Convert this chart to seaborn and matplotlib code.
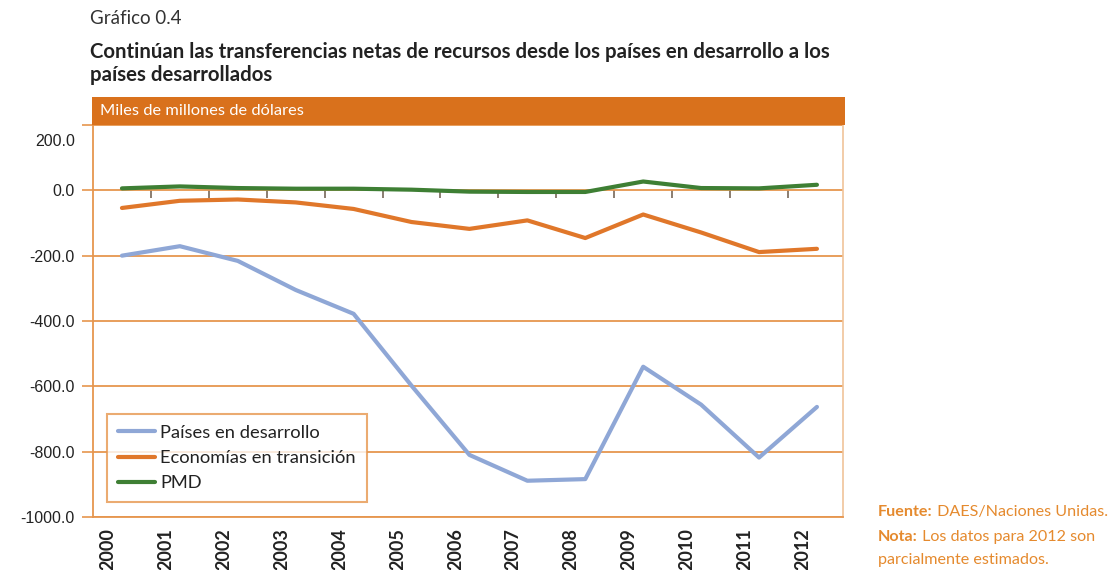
import numpy as np
import pandas as pd
import matplotlib
matplotlib.use("Agg")
import matplotlib.pyplot as plt
import matplotlib.transforms as mtransforms
from matplotlib.patches import Rectangle
import seaborn as sns

# ---------------- data ----------------
years = [2000, 2001, 2002, 2003, 2004, 2005, 2006, 2007, 2008, 2009, 2010, 2011, 2012]
paises_desarrollo = [-200, -171, -216, -305, -378, -598, -810, -889, -884, -540, -656, -818, -663]
economias_transicion = [-54, -32, -28, -37, -57, -97, -118, -92, -146, -74, -129, -189, -179]
pmd = [6, 12, 7, 5, 5, 2, -4, -5, -5, 27, 7, 6, 17]
series_names = ["Países en desarrollo", "Economías en transición", "PMD"]
series_colors = ["#8FA7D6", "#E0772A", "#3E7F34"]
y_ticks = [200, 0, -200, -400, -600, -800, -1000]
y_labels = ["200.0", "0.0", "-200.0", "-400.0", "-600.0", "-800.0", "-1000.0"]

ORANGE = "#D9711C"
GRID = "#E6964E"
FOOT = "#E58A2E"

df = pd.DataFrame({
    "year": years * 3,
    "value": paises_desarrollo + economias_transicion + pmd,
    "serie": [series_names[0]] * len(years) + [series_names[1]] * len(years) + [series_names[2]] * len(years),
})

sns.set_style("white")
plt.rcParams["font.family"] = ["Lato", "DejaVu Sans"]
NARROW = ["Liberation Sans Narrow", "Lato", "DejaVu Sans"]

fig = plt.figure(figsize=(11.2, 5.7), dpi=100)
ax = fig.add_axes([93 / 1120, 53 / 570, 750 / 1120, 392 / 570])

sns.lineplot(data=df, x="year", y="value", hue="serie", hue_order=series_names,
             palette=series_colors, linewidth=3.0, ax=ax, sort=False)

ax.set_xlim(years[0] - 0.5, years[-1] + 0.45)
ax.set_ylim(-1000, 200)
ax.set_xlabel("")
ax.set_ylabel("")

# y axis
ax.set_yticks(y_ticks)
ax.set_yticklabels(y_labels)
ax.yaxis.grid(True, color=GRID, linewidth=1.3)
ax.xaxis.grid(False)
ax.tick_params(axis="y", left=True, length=8, width=1.2, color=GRID, pad=5,
               labelsize=11.5, labelcolor="#222222")
for lab in ax.get_yticklabels():
    lab.set_fontfamily(["Liberation Sans", "DejaVu Sans"])
    if lab.get_text() == "200.0":
        lab.set_transform(lab.get_transform() +
                          mtransforms.ScaledTranslation(0, -0.15, fig.dpi_scale_trans))

# x axis labels
ax.set_xticks(years)
ax.set_xticklabels([str(y) for y in years], rotation=90)
ax.tick_params(axis="x", bottom=False, length=0, pad=8, labelsize=13, labelcolor="#222222")
for lab in ax.get_xticklabels():
    lab.set_fontfamily(NARROW)
    lab.set_fontweight("bold")
    lab.set_transform(lab.get_transform() +
                      mtransforms.ScaledTranslation(-0.14, 0, fig.dpi_scale_trans))

# minor tick marks on the zero line between categories
frac0 = (0 - (-1000)) / (200 - (-1000))
sec = ax.secondary_xaxis(frac0)
sec.set_xticks(np.array(years[:-1]) + 0.5)
sec.set_xticklabels([""] * (len(years) - 1))
sec.tick_params(direction="in", length=6, width=1.1, color="#6B5A4A")
for s in sec.spines.values():
    s.set_visible(False)

# spines
ax.spines["top"].set_visible(False)
ax.spines["left"].set_color(GRID)
ax.spines["left"].set_linewidth(1.3)
ax.spines["bottom"].set_color(GRID)
ax.spines["bottom"].set_linewidth(1.3)
ax.spines["right"].set_color("#F0C49A")
ax.spines["right"].set_linewidth(1.2)

# legend
handles, labels = ax.get_legend_handles_labels()
leg = ax.legend(handles, labels, loc="lower left", bbox_to_anchor=(0.019, 0.038),
                borderaxespad=0, frameon=True, fancybox=False, fontsize=13.2,
                handlelength=2.0, handletextpad=0.3, labelspacing=0.5,
                borderpad=0.6)
leg.get_frame().set_edgecolor(GRID)
leg.get_frame().set_linewidth(1.5)
for t in leg.get_texts():
    t.set_color("#222222")

# header band
fig.patches.append(Rectangle((92 / 1120, 445 / 570), 753 / 1120, 28 / 570,
                             transform=fig.transFigure, facecolor=ORANGE,
                             edgecolor="none", zorder=3))
fig.text(100 / 1120, 1 - 111 / 570, "Miles de millones de dólares", color="white",
         fontsize=11.8, va="center", ha="left", zorder=4)

# titles
fig.text(90 / 1120, 1 - 18 / 570, "Gráfico 0.4", fontsize=13.5, color="#333333",
         va="center", ha="left")
fig.text(90 / 1120, 1 - 52 / 570,
         "Continúan las transferencias netas de recursos desde los países en desarrollo a los",
         fontsize=14.7, fontweight="bold", family=NARROW, color="#222222",
         va="center", ha="left")
fig.text(90 / 1120, 1 - 75 / 570, "países desarrollados",
         fontsize=14.7, fontweight="bold", family=NARROW, color="#222222",
         va="center", ha="left")

# footnotes
FS = 11.6
t1 = fig.text(878 / 1120, 1 - 512 / 570, "Fuente:", fontsize=FS, fontweight="bold",
              color=FOOT, va="center", ha="left")
ax.annotate(" DAES/Naciones Unidas.", xy=(1, 0), xycoords=t1, va="bottom", ha="left",
            fontsize=FS, color=FOOT, annotation_clip=False)
t2 = fig.text(878 / 1120, 1 - 537 / 570, "Nota:", fontsize=FS, fontweight="bold",
              color=FOOT, va="center", ha="left")
ax.annotate(" Los datos para 2012 son", xy=(1, 0), xycoords=t2, va="bottom", ha="left",
            fontsize=FS, color=FOOT, annotation_clip=False)
fig.text(878 / 1120, 1 - 560 / 570, "parcialmente estimados.", fontsize=FS,
         color=FOOT, va="center", ha="left")

fig.savefig("out.png", dpi=100)
